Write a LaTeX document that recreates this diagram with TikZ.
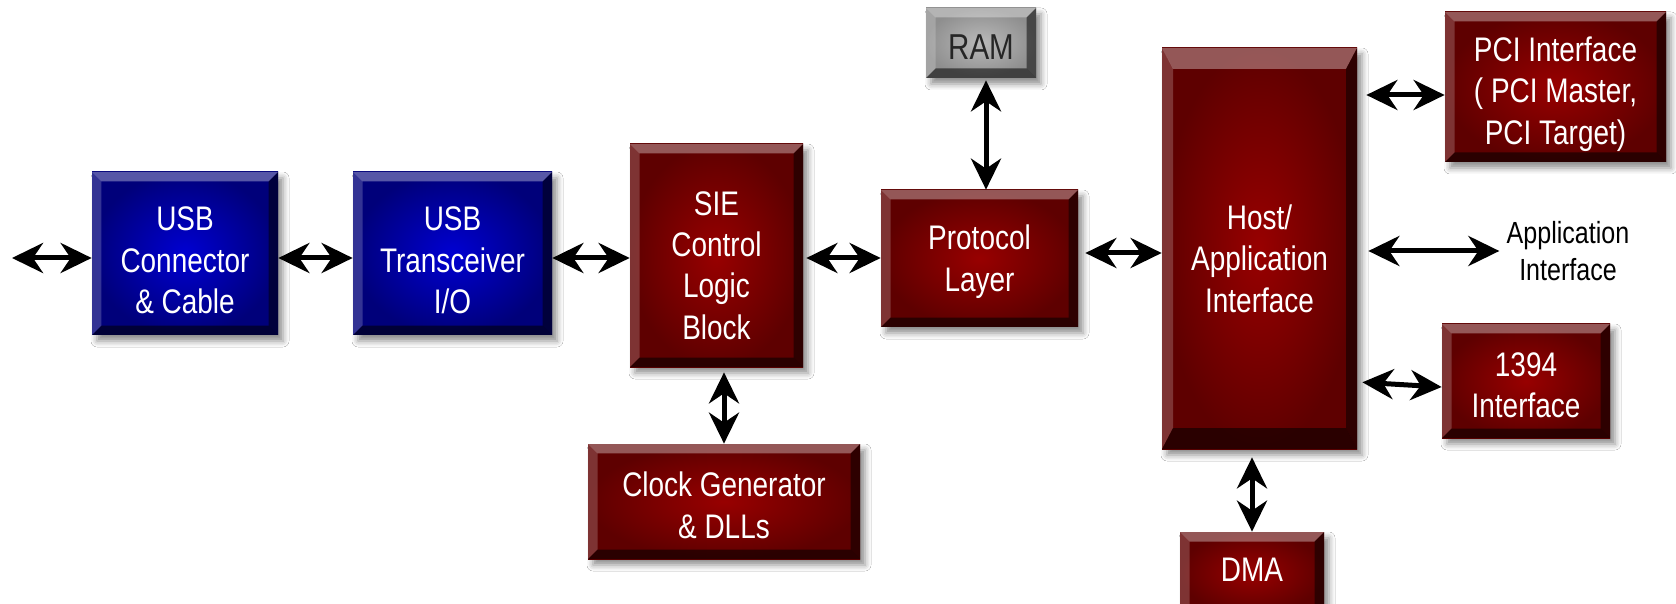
\documentclass[tikz,border=0pt]{standalone}
\usepackage{fontspec}
\setmainfont[FakeStretch=0.82]{Liberation Sans}
\usetikzlibrary{arrows.meta,shadows.blur}

\definecolor{redin}{HTML}{980000}
\definecolor{redout}{HTML}{5E0000}
\definecolor{bluein}{HTML}{0000D2}
\definecolor{blueout}{HTML}{00007A}
\definecolor{grayin}{HTML}{BABABA}
\definecolor{grayout}{HTML}{8E8E8E}

\tikzset{
  bevelx/.store in=\bevx, bevelx=0.19cm,
  bevely/.store in=\bevy, bevely=0.19cm,
  panel/.style={rectangle, inner sep=0pt,
    blur shadow={shadow xshift=0.1cm, shadow yshift=-0.12cm,
                 shadow blur radius=0.12cm, shadow opacity=45},
    path picture={
      % light top edge
      \fill[white, opacity=0.34]
        (path picture bounding box.north west) -- (path picture bounding box.north east)
        -- ([shift={(-\bevx,-\bevy)}]path picture bounding box.north east)
        -- ([shift={(\bevx,-\bevy)}]path picture bounding box.north west) -- cycle;
      % light left edge
      \fill[white, opacity=0.2]
        (path picture bounding box.north west)
        -- ([shift={(\bevx,-\bevy)}]path picture bounding box.north west)
        -- ([shift={(\bevx,\bevy)}]path picture bounding box.south west)
        -- (path picture bounding box.south west) -- cycle;
      % dark right edge
      \fill[black, opacity=0.5]
        (path picture bounding box.north east) -- (path picture bounding box.south east)
        -- ([shift={(-\bevx,\bevy)}]path picture bounding box.south east)
        -- ([shift={(-\bevx,-\bevy)}]path picture bounding box.north east) -- cycle;
      % dark bottom edge
      \fill[black, opacity=0.55]
        (path picture bounding box.south west) -- (path picture bounding box.south east)
        -- ([shift={(-\bevx,\bevy)}]path picture bounding box.south east)
        -- ([shift={(\bevx,\bevy)}]path picture bounding box.south west) -- cycle;
    }},
  redpanel/.style={panel, inner color=redin, outer color=redout},
  bluepanel/.style={panel, inner color=bluein, outer color=blueout},
  graypanel/.style={panel, inner color=grayin, outer color=grayout},
  boxtext/.style={text=white, align=center, inner sep=0pt,
    font=\fontsize{19.4pt}{23.6pt}\selectfont},
  darktext/.style={boxtext, text=black!85},
  sidetext/.style={text=black, align=center, inner sep=0pt,
    font=\fontsize{17.4pt}{21.5pt}\selectfont},
  biarrow/.style={{Stealth[length=0.62cm,width=0.6cm,inset=0.2cm]}-{Stealth[length=0.62cm,width=0.6cm,inset=0.2cm]},
    line width=0.1cm, black},
}

% a panel given by its corners (x1,y1) and (x2,y2)
\newcommand\panelbox[6]{%
  \node[#2, minimum width={(#5-#3)*0.02cm}, minimum height={(#6-#4)*0.02cm}]
    (#1) at ({(#3+#5)/2},{(#4+#6)/2}) {};}

\begin{document}
\begin{tikzpicture}[x=0.02cm, y=-0.02cm]
  \useasboundingbox (0,0) rectangle (1676,604);
  \clip (0,0) rectangle (1676,604);
  \fill[white] (0,0) rectangle (1676,604);

  % blocks
  \panelbox{usbc}{bluepanel}{92}{172}{278}{335}
  \panelbox{usbt}{bluepanel}{353}{172}{552}{335}
  \panelbox{sie}{redpanel}{630}{144}{803}{367}
  \panelbox{proto}{redpanel}{881}{190}{1078}{327}
  \panelbox{ram}{graypanel}{926}{8}{1036}{78}
  \panelbox{host}{redpanel, bevelx=0.22cm, bevely=0.42cm}{1162}{48}{1357}{449}
  \panelbox{pci}{redpanel}{1445}{12}{1666}{162}
  \panelbox{f1394}{redpanel}{1442}{324}{1610}{438}
  \panelbox{dma}{redpanel}{1180}{532}{1324}{614}
  \panelbox{clk}{redpanel}{588}{444}{860}{559}

  % block labels
  \node[boxtext] (usbc-t) at ([yshift=-0.14cm]usbc.center) {USB\\Connector\\\& Cable};
  \node[boxtext] (usbt-t) at ([yshift=-0.14cm]usbt.center) {USB\\Transceiver\\I/O};
  \node[boxtext] (sie-t) at ([yshift=-0.2cm]sie.center) {SIE\\Control\\Logic\\Block};
  \node[boxtext] (proto-t) at ([yshift=-0.06cm]proto.center) {Protocol\\Layer};
  \node[darktext, font=\fontsize{20.5pt}{24pt}\selectfont] (ram-t) at ([yshift=-0.08cm]ram.center) {RAM};
  \node[boxtext] (host-t) at ([yshift=-0.2cm]host.center) {Host/\\Application\\Interface};
  \node[boxtext] (pci-t) at ([yshift=-0.14cm]pci.center) {PCI Interface\\( PCI Master,\\PCI Target)};
  \node[boxtext] (f1394-t) at ([yshift=-0.08cm]f1394.center) {1394\\Interface};
  \node[boxtext] (dma-t) at (1252,570) {DMA};
  \node[boxtext] (clk-t) at ([yshift=-0.08cm]clk.center) {Clock Generator\\\& DLLs};
  \node[sidetext] (appif) at (1568,251) {Application\\Interface};

  % connectors
  \coordinate (lin) at (12,258);
  \draw[biarrow] (lin) -- (lin -| usbc.west);
  \draw[biarrow] (lin -| usbc.east) -- (lin -| usbt.west);
  \draw[biarrow] (lin -| usbt.east) -- (lin -| sie.west);
  \draw[biarrow, shorten <=0.06cm] (lin -| sie.east) -- (lin -| proto.west);

  \coordinate (ph) at ([yshift=0.11cm]proto.east);
  \draw[biarrow, shorten <=0.14cm] (ph) -- (ph -| host.west);

  \coordinate (rp) at ([xshift=0.1cm]ram.south);
  \draw[biarrow, shorten <=0.04cm] (rp) -- (rp |- proto.north);

  \draw[biarrow, shorten <=0.1cm] (clk.north |- sie.south) -- (clk.north);

  \coordinate (hp) at ([yshift=-0.16cm]pci.west);
  \draw[biarrow, shorten <=0.18cm] (hp -| host.east) -- (hp);

  \draw[biarrow, shorten <=0.22cm, shorten >=0.14cm] (appif.west -| host.east) -- (appif.west);

  \coordinate (h4) at ([yshift=-0.12cm]f1394.west);
  \coordinate (h4a) at ([yshift=-0.02cm]f1394.west);
  \draw[biarrow, shorten <=0.1cm] (h4a -| host.east) -- (h4);

  \draw[biarrow, shorten <=0.16cm] (dma.north |- host.south) -- (dma.north);
\end{tikzpicture}
\end{document}
